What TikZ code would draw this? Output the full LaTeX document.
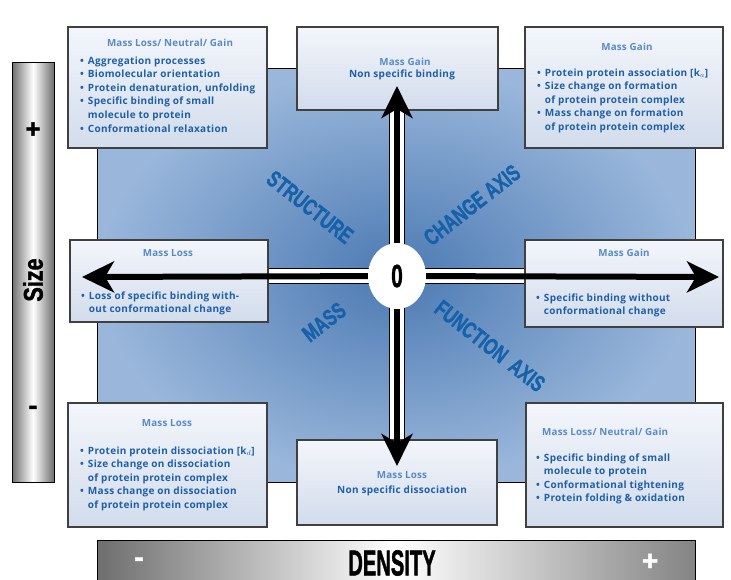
\documentclass[tikz,border=0pt]{standalone}
\usepackage{fontspec}
\usepackage{graphicx}
\setmainfont{Open Sans}
\newfontfamily\heavyfont{Liberation Sans}[FakeBold=1.6]
\usetikzlibrary{arrows.meta,shapes.geometric}

\definecolor{txtblue}{HTML}{1E5FA8}
\definecolor{headblue}{HTML}{5A8AC6}
\definecolor{axisblue}{HTML}{1661A9}
\definecolor{boxtop}{HTML}{F3F6FB}
\definecolor{boxbot}{HTML}{D2DCEC}
\definecolor{sqin}{HTML}{4C7AB3}
\definecolor{sqout}{HTML}{9AB7DB}
\definecolor{barside}{HTML}{6E6E6E}

% bullet list set as a two column tabular
\newcommand{\blist}[1]{\begin{tabular}[t]{@{}l@{\hspace{4pt}}l@{}}#1\end{tabular}}

\begin{document}
\begin{tikzpicture}[x=1pt, y=-1pt,
		panel/.style 2 args={draw=black!75, line width=1.1pt, top color=boxtop, bottom color=boxbot,
			minimum width=#1, minimum height=#2, inner sep=0pt},
		head/.style={text=headblue, font=\bfseries\fontsize{9.8}{11}\selectfont\addfontfeature{LetterSpace=2}, inner sep=0pt},
		items/.style={text=txtblue, font=\bfseries\fontsize{10}{13.6}\selectfont\addfontfeature{LetterSpace=3}, inner sep=0pt, anchor=base west},
		band/.style={line width=16pt},
		core/.style={line width=6pt, -{Stealth[length=32pt, width=31pt, inset=9pt]}},
		diag/.style={text=axisblue, font=\heavyfont\bfseries\fontsize{23}{23}\selectfont, inner sep=0pt},
		bar/.style={draw=black, line width=0.8pt},
		bartxt/.style={font=\heavyfont\bfseries, inner sep=0pt}]

		\useasboundingbox (0,0) rectangle (731,579);
		\fill[white] (0,0) rectangle (731,579);

		% size and density bars
		\node[bar, left color=barside, right color=barside, middle color=white, minimum width=42pt, minimum height=420pt, inner sep=0pt] (sizebar) at (33,272) {};
		\node[bartxt, font=\heavyfont\bfseries\fontsize{26}{26}\selectfont] (splus) at (33,130) {+};
		\node[bartxt, rotate=90, font=\heavyfont\bfseries\fontsize{27}{27}\selectfont] (ssize) at (33,280) {\scalebox{0.8}[1]{Size}};
		\node[bartxt, font=\heavyfont\bfseries\fontsize{26}{26}\selectfont] (sminus) at (33,410) {-};
		\begin{scope}
			\clip (0,0) rectangle (731,579);
			\node[bar, left color=barside, right color=barside!85, middle color=white, minimum width=598pt, minimum height=50pt, inner sep=0pt] (denbar) at (396,565) {};
		\end{scope}
		\node[bartxt, text=white, font=\heavyfont\bfseries\fontsize{28}{28}\selectfont] (dminus) at (139,562) {-};
		\node[bartxt, font=\heavyfont\bfseries\fontsize{36}{36}\selectfont] (dtxt) at (392,563) {\scalebox{0.56}[1]{DENSITY}};
		\node[bartxt, text=white, font=\heavyfont\bfseries\fontsize{28}{28}\selectfont] (dplus) at (650,562) {+};

		% blue field
		\node[draw=black, line width=0.7pt, inner color=sqin, outer color=sqout, minimum width=598pt, minimum height=414pt, inner sep=0pt] (field) at (396,275) {};

		\coordinate (O) at (397,276);
		\coordinate (tipN) at (397,86);
		\coordinate (tipS) at (397,466);
		\coordinate (tipW) at (82,277);
		\coordinate (tipE) at (719,277);

		% banded axes
		\draw[band, black] (397,110) -- (397,440) (268,276) -- (525,276);
		\draw[band, line width=14pt, white] (397,110) -- (397,440) (268,276) -- (525,276);

		% diagonal labels
		\node[diag, rotate=-38] (lstruct) at (310,207) {\scalebox{0.72}[1]{STRUCTURE}};
		\node[diag, rotate=38] (lchange) at (472,205) {\scalebox{0.72}[1]{CHANGE AXIS}};
		\node[diag, rotate=38] (lmass) at (324,322) {\scalebox{0.72}[1]{MASS}};
		\node[diag, rotate=-38] (lfunc) at (490,346) {\scalebox{0.72}[1]{FUNCTION\enspace AXIS}};

		% boxes
		\node[panel={199pt}{121pt}] (TL) at (167.5,87.5) {};
		\node[panel={201pt}{83pt}] (TM) at (397.5,68.5) {};
		\node[panel={198pt}{121pt}] (TR) at (624,87.5) {};
		\node[panel={198pt}{82pt}] (ML) at (169,281) {};
		\node[panel={198pt}{87pt}] (MR) at (624,283.5) {};
		\node[panel={199pt}{124pt}] (BL) at (167.5,465) {};
		\node[panel={200pt}{85pt}] (BM) at (397,482.5) {};
		\node[panel={197pt}{124pt}] (BR) at (624.5,465) {};

		\node[head] (TLhead) at (170,43) {Mass Loss/ Neutral/ Gain};
		\node[items] (TLtext) at (80,64) {\blist{%
			\textbullet & Aggregation processes\\
			\textbullet & Biomolecular orientation\\
			\textbullet & Protein denaturation, unfolding\\
			\textbullet & Specific binding of small\\
			& molecule to protein\\
			\textbullet & Conformational relaxation}};

		\node[head] (TMhead) at (405,62) {Mass Gain};
		\node[text=txtblue, font=\bfseries\fontsize{10}{11}\selectfont\addfontfeature{LetterSpace=3}, inner sep=0pt] (TMtext) at (402,75) {Non specific binding};

		\node[head] (TRhead) at (627,47) {Mass Gain};
		\node[items] (TRtext) at (537,76) {\blist{%
			\textbullet & Protein protein association [k$_a$]\\
			\textbullet & Size change on formation\\
			& of protein protein complex\\
			\textbullet & Mass change on formation\\
			& of protein protein complex}};

		\node[head] (MLhead) at (168,253) {Mass Loss};
		\node[items] (MLtext) at (81,299) {\blist{%
			\textbullet & Loss of specific binding with-\\
			& out conformational change}};

		\node[head] (MRhead) at (624,253) {Mass Gain};
		\node[items] (MRtext) at (536,301) {\blist{%
			\textbullet & Specific binding without\\
			& conformational change}};

		\node[head] (BLhead) at (167,423) {Mass Loss};
		\node[items] (BLtext) at (80,454) {\blist{%
			\textbullet & Protein protein dissociation [k$_d$]\\
			\textbullet & Size change on dissociation\\
			& of protein protein complex\\
			\textbullet & Mass change on dissociation\\
			& of protein protein complex}};

		\node[head] (BMhead) at (402,475) {Mass Loss};
		\node[text=txtblue, font=\bfseries\fontsize{10}{11}\selectfont\addfontfeature{LetterSpace=3}, inner sep=0pt] (BMtext) at (402,491) {Non specific dissociation};

		\node[head, anchor=west] (BRhead) at (542,432) {Mass Loss/ Neutral/ Gain};
		\node[items] (BRtext) at (536,461) {\blist{%
			\textbullet & Specific binding of small\\
			& molecule to protein\\
			\textbullet & Conformational tightening\\
			\textbullet & Protein folding \& oxidation}};

		% arrows
		\draw[core] (O) -- (tipN);
		\draw[core] (O) -- (tipS);
		\draw[core] (O) -- (tipW);
		\draw[core] (O) -- (tipE);

		\node[ellipse, fill=white, minimum width=58pt, minimum height=66pt, inner sep=0pt,
			font=\heavyfont\bfseries\fontsize{32}{32}\selectfont] (zero) at (O) {\scalebox{0.65}[1]{0}};

	\end{tikzpicture}
\end{document}
